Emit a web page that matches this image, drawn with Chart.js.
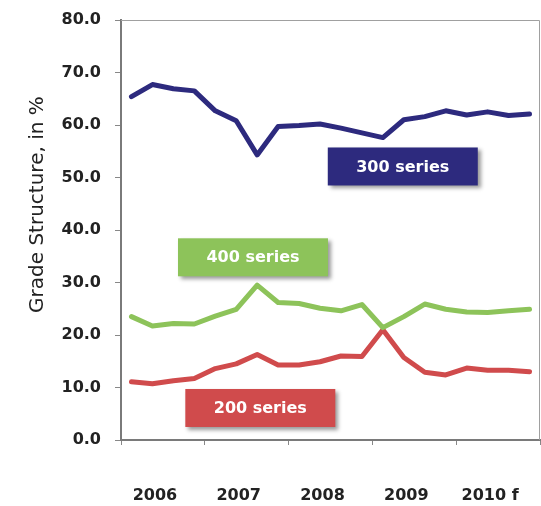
<!DOCTYPE html>
<html>
<head>
<meta charset="utf-8">
<script src="https://cdn.jsdelivr.net/npm/chart.js@4.4.0/dist/chart.umd.min.js"></script>
<style>
  html, body { margin: 0; padding: 0; background: #fff; }
  #wrap { width: 541px; height: 506px; position: relative; }
</style>
</head>
<body>
<div id="wrap"><canvas id="c"></canvas></div>
<script>
// quarterly points, 2006 Q1 .. 2010 Q4 (forecast)
const quarters = ['2006 Q1', '2006 Q2', '2006 Q3', '2006 Q4',
                  '2007 Q1', '2007 Q2', '2007 Q3', '2007 Q4',
                  '2008 Q1', '2008 Q2', '2008 Q3', '2008 Q4',
                  '2009 Q1', '2009 Q2', '2009 Q3', '2009 Q4',
                  '2010 Q1', '2010 Q2', '2010 Q3', '2010 Q4'];
const years = ['2006', '2007', '2008', '2009', '2010 f'];
const seriesNames = ['300 series', '400 series', '200 series'];

const series300 = [65.4, 67.7, 66.9, 66.5, 62.7, 60.8, 54.3, 59.7, 59.9, 60.2,
                   59.4, 58.5, 57.6, 61.0, 61.6, 62.7, 61.9, 62.5, 61.8, 62.1];
const series400 = [23.5, 21.7, 22.2, 22.1, 23.6, 24.9, 29.5, 26.2, 26.0, 25.1,
                   24.6, 25.8, 21.4, 23.5, 25.9, 24.9, 24.4, 24.3, 24.6, 24.9];
const series200 = [11.1, 10.7, 11.3, 11.7, 13.6, 14.5, 16.3, 14.3, 14.3, 14.9,
                   16.0, 15.9, 21.0, 15.7, 12.9, 12.4, 13.7, 13.3, 13.3, 13.0];

const colors = ['#2d2a7e', '#8dc35a', '#d04b4c'];

// where the series name boxes sit (category index, value)
const boxSpots = [[12.95, 52.1], [5.8, 34.8], [6.15, 6.1]];

// simple label boxes with a drop shadow
let seriesBoxes = {
    id: 'seriesBoxes',
    afterDatasetsDraw(chart) {
        let ctx = chart.ctx;
        let xs = chart.scales.x, ys = chart.scales.y;
        let w = 150, h = 38;
        seriesNames.forEach((name, i) => {
            let cx = xs.getPixelForValue(boxSpots[i][0]);
            let cy = ys.getPixelForValue(boxSpots[i][1]);
            ctx.save();
            ctx.shadowColor = 'rgba(0,0,0,0.4)';
            ctx.shadowBlur = 4;
            ctx.shadowOffsetX = 3;
            ctx.shadowOffsetY = 3;
            ctx.fillStyle = colors[i];
            ctx.fillRect(cx - w / 2, cy - h / 2, w, h);
            ctx.restore();
            ctx.save();
            ctx.fillStyle = '#fff';
            ctx.font = 'bold 16px "DejaVu Sans"';
            ctx.textAlign = 'center';
            ctx.textBaseline = 'middle';
            ctx.fillText(name, cx, cy + 1);
            ctx.restore();
        });
    }
};

// thin frame on the top and right of the plot
let frame = {
    id: 'frame',
    beforeDatasetsDraw(chart) {
        let a = chart.chartArea, ctx = chart.ctx;
        ctx.save();
        ctx.strokeStyle = '#a0a0a0';
        ctx.lineWidth = 1;
        ctx.beginPath();
        ctx.moveTo(a.left, a.top + 0.5);
        ctx.lineTo(a.right - 0.5, a.top + 0.5);
        ctx.lineTo(a.right - 0.5, a.bottom);
        ctx.stroke();
        ctx.restore();
    }
};

let ds = [series300, series400, series200].map((vals, i) => ({
    label: seriesNames[i],
    data: vals,
    borderColor: colors[i],
    backgroundColor: colors[i],
    borderWidth: 5,
    pointRadius: 0,
    tension: 0,
    borderJoinStyle: 'round',
    borderCapStyle: 'round',
    xAxisID: 'x',
    yAxisID: 'y'
}));

new Chart(document.getElementById('c'), {
    type: 'line',
    data: { labels: quarters, datasets: ds },
    options: {
        responsive: true,
        maintainAspectRatio: false,
        animation: false,
        layout: { padding: { top: 20, right: 1, left: 0, bottom: 0 } },
        plugins: { legend: { display: false }, tooltip: { enabled: false } },
        scales: {
            x: {
                type: 'category',
                display: false,
                offset: true
            },
            x2: {
                type: 'category',
                labels: years,
                position: 'bottom',
                offset: true,
                grid: { offset: true, drawOnChartArea: false, tickLength: 5, color: '#888' },
                border: { display: true, color: '#7a7a7a', width: 2 },
                ticks: {
                    color: '#222',
                    padding: 41,
                    labelOffset: -8,
                    maxRotation: 0,
                    font: { family: 'DejaVu Sans', size: 16, weight: 'bold' }
                },
                afterFit(scale) {
                    scale.height = 66;
                    scale.paddingLeft = 0;
                    scale.paddingRight = 0;
                }
            },
            y: {
                min: 0,
                max: 80,
                ticks: {
                    stepSize: 10,
                    color: '#222',
                    padding: 14,
                    font: { family: 'DejaVu Sans', size: 16, weight: 'bold' },
                    callback: v => v.toFixed(1)
                },
                grid: { drawOnChartArea: false, tickLength: 6, color: '#888' },
                border: { display: true, color: '#7a7a7a', width: 2 },
                title: {
                    display: true,
                    text: '\u00a0\u00a0\u00a0\u00a0\u00a0\u00a0\u00a0\u00a0Grade Structure, in %',
                    color: '#222',
                    font: { family: 'DejaVu Sans', size: 20 },
                    padding: { top: 26, bottom: 0 }
                },
                afterFit(scale) {
                    scale.width = 121;
                    scale.paddingTop = 0;
                    scale.paddingBottom = 0;
                }
            }
        }
    },
    plugins: [frame, seriesBoxes]
});
</script>
</body>
</html>
